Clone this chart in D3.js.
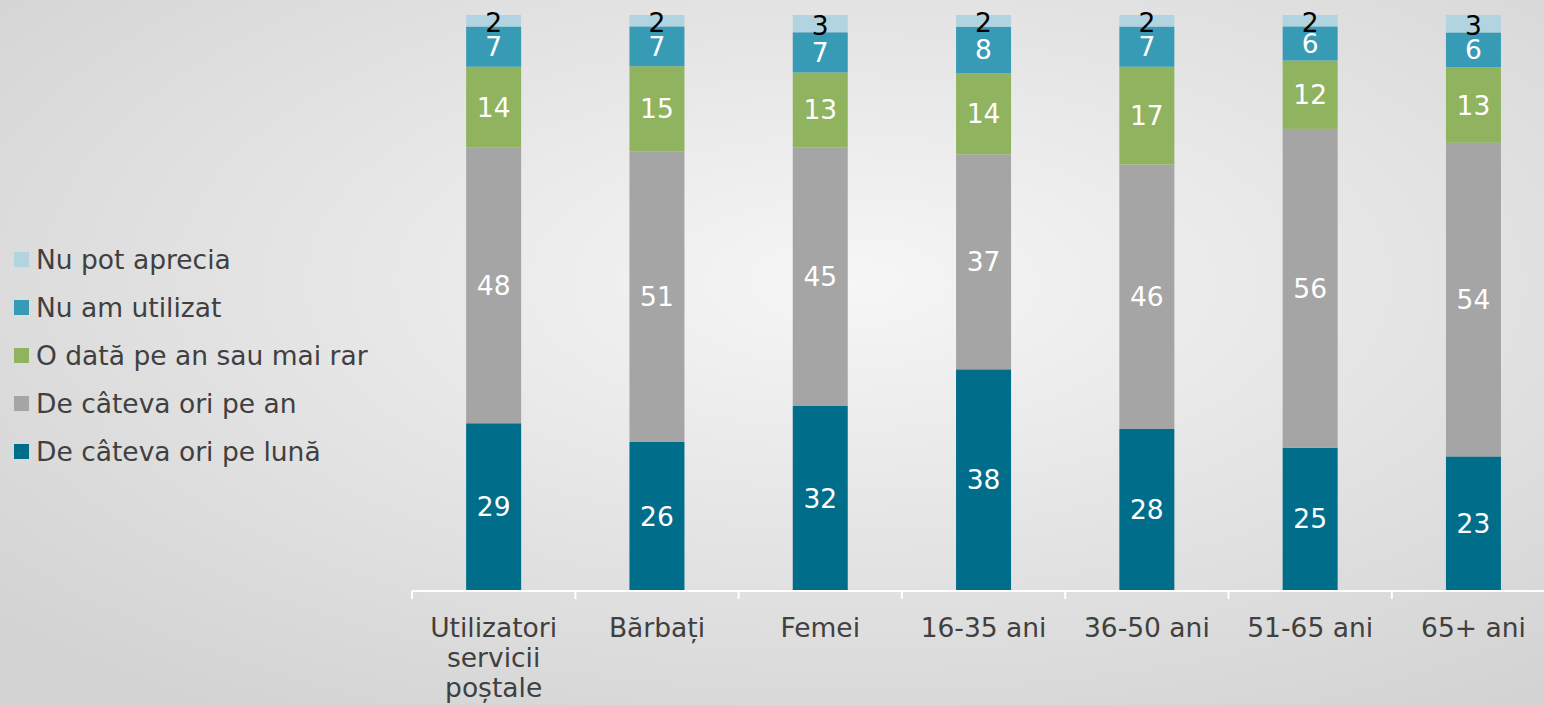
<!DOCTYPE html>
<html lang="ro">
<head>
<meta charset="UTF-8">
<title>Frecventa utilizare servicii postale</title>
<script src="https://d3js.org/d3.v7.min.js"></script>
<style>
    body { margin: 0; overflow: hidden; }
    text { font-family: "DejaVu Sans", Verdana, sans-serif; }
</style>
</head>
<body>
<div id="chart"></div>
<script>
// categories and series (values in %)
var categories = ["Utilizatori servicii poștale", "Bărbați", "Femei", "16-35 ani", "36-50 ani", "51-65 ani", "65+ ani"];
var seriesNames = ["De câteva ori pe lună", "De câteva ori pe an", "O dată pe an sau mai rar", "Nu am utilizat", "Nu pot aprecia"];
var perLuna   = [29, 26, 32, 38, 28, 25, 23];
var perAn     = [48, 51, 45, 37, 46, 56, 54];
var oDataPeAn = [14, 15, 13, 14, 17, 12, 13];
var nuAmUtil  = [7, 7, 7, 8, 7, 6, 6];
var nuPot     = [2, 2, 3, 2, 2, 2, 3];
var colors = ["#006d8a", "#a5a5a5", "#8fb35e", "#389bb6", "#b2d4e0"];

var W = 1544, H = 705;
var plotTop = 15, plotBottom = 590;
var fs = "26.5px";

var rows = categories.map(function(c, i) {
    return { cat: c, s0: perLuna[i], s1: perAn[i], s2: oDataPeAn[i], s3: nuAmUtil[i], s4: nuPot[i] };
});
var keys = ["s0", "s1", "s2", "s3", "s4"];

var svg = d3.select("#chart").append("svg")
    .attr("width", W).attr("height", H);

// background radial gradient
var defs = svg.append("defs");
var grad = defs.append("radialGradient").attr("id", "bg")
    .attr("cx", "55%").attr("cy", "40%").attr("r", "75%");
grad.append("stop").attr("offset", "0%").attr("stop-color", "#f6f6f6");
grad.append("stop").attr("offset", "100%").attr("stop-color", "#d2d2d2");
svg.append("rect").attr("width", W).attr("height", H).attr("fill", "url(#bg)");

var x = d3.scaleBand().domain(categories).range([412, 412 + 7 * 163.3]).paddingInner(0).paddingOuter(0);
var y = d3.scaleLinear().domain([0, 1]).range([plotBottom, plotTop]);
var barW = 55;

var stack = d3.stack().keys(keys).offset(d3.stackOffsetExpand);
var stacked = stack(rows);

var layers = svg.selectAll("g.layer")
    .data(stacked)
    .enter().append("g")
    .attr("class", "layer")
    .attr("fill", function(d, i) { return colors[i]; });

layers.selectAll("rect")
    .data(function(d) { return d; })
    .enter().append("rect")
    .attr("x", function(d) { return x(d.data.cat) + x.bandwidth() / 2 - barW / 2; })
    .attr("y", function(d) { return y(d[1]); })
    .attr("width", barW)
    .attr("height", function(d) { return y(d[0]) - y(d[1]); });

// value labels
layers.each(function(layer, li) {
    d3.select(this).selectAll("text")
        .data(layer)
        .enter().append("text")
        .attr("x", function(d) { return x(d.data.cat) + x.bandwidth() / 2; })
        .attr("y", function(d) {
            var mid = (y(d[0]) + y(d[1])) / 2;
            return li == 4 ? mid + 2 : mid;
        })
        .attr("dy", "0.36em")
        .attr("text-anchor", "middle")
        .attr("font-size", fs)
        .attr("fill", li == 4 ? "#000" : "#fff")
        .text(function(d) { return d.data[layer.key]; });
});

// x axis
var axis = svg.append("g")
    .attr("transform", "translate(0," + (plotBottom + 1) + ")")
    .call(d3.axisBottom(x).tickSize(0).tickFormat(""));
axis.select(".domain").attr("stroke", "#fff").attr("stroke-width", 2)
    .attr("d", "M412,0H" + W);
axis.selectAll(".tick").remove();

var bounds = d3.range(categories.length + 1).map(function(i) { return 412 + i * x.step(); });
svg.selectAll("line.sep")
    .data(bounds)
    .enter().append("line")
    .attr("class", "sep")
    .attr("x1", function(d) { return d; }).attr("x2", function(d) { return d; })
    .attr("y1", plotBottom + 1).attr("y2", plotBottom + 9)
    .attr("stroke", "#fff").attr("stroke-width", 2);

// category labels, wrapped
var wrapped = {
    "Utilizatori servicii poștale": ["Utilizatori", "servicii", "poștale"]
};
svg.selectAll("text.cat")
    .data(categories)
    .enter().append("text")
    .attr("class", "cat")
    .attr("x", function(d) { return x(d) + x.bandwidth() / 2; })
    .attr("y", 637)
    .attr("text-anchor", "middle")
    .attr("font-size", fs)
    .attr("fill", "#404040")
    .each(function(d) {
        var lines = wrapped[d] || [d];
        var t = d3.select(this);
        var cx = x(d) + x.bandwidth() / 2;
        lines.forEach(function(l, i) {
            t.append("tspan").attr("x", cx).attr("dy", i == 0 ? 0 : 30).text(l);
        });
    });

// legend
var legendOrder = [4, 3, 2, 1, 0];
var legend = svg.selectAll("g.leg")
    .data(legendOrder)
    .enter().append("g")
    .attr("class", "leg")
    .attr("transform", function(d, i) { return "translate(14," + (259 + i * 48) + ")"; });

legend.append("rect")
    .attr("x", 0).attr("y", -7)
    .attr("width", 15).attr("height", 15)
    .attr("fill", function(d) { return colors[d]; });

legend.append("text")
    .attr("x", 22).attr("y", 0)
    .attr("dy", "0.36em")
    .attr("font-size", fs)
    .attr("fill", "#404040")
    .text(function(d) { return seriesNames[d]; });
</script>
</body>
</html>
